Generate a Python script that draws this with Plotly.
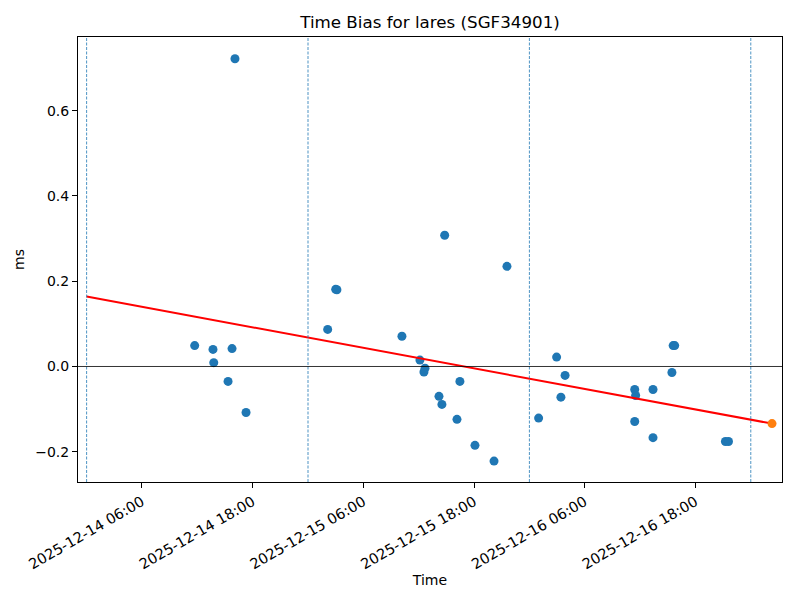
import plotly.graph_objects as go

title = "Time Bias for lares (SGF34901)"

obs_times = [
    "2025-12-14 11:43", "2025-12-14 13:42", "2025-12-14 13:47", "2025-12-14 15:46",
    "2025-12-14 15:20", "2025-12-14 17:17", "2025-12-14 16:05",
    "2025-12-15 02:08", "2025-12-15 03:00", "2025-12-15 03:08",
    "2025-12-15 10:11", "2025-12-15 12:08", "2025-12-15 12:41", "2025-12-15 12:34",
    "2025-12-15 14:49", "2025-12-15 16:28", "2025-12-15 14:12", "2025-12-15 14:31",
    "2025-12-15 16:09", "2025-12-15 18:06", "2025-12-15 20:10", "2025-12-15 21:34",
    "2025-12-16 01:00", "2025-12-16 02:57", "2025-12-16 03:52", "2025-12-16 03:25",
    "2025-12-16 11:25", "2025-12-16 11:31", "2025-12-16 11:25", "2025-12-16 13:24",
    "2025-12-16 13:24", "2025-12-16 15:27", "2025-12-16 15:35", "2025-12-16 15:45",
    "2025-12-16 21:15", "2025-12-16 21:35",
]
obs_bias_ms = [
    0.049, 0.040, 0.009, 0.042,
    -0.035, -0.108, 0.722,
    0.087, 0.181, 0.180,
    0.071, 0.015, -0.004, -0.013,
    0.308, -0.035, -0.070, -0.089,
    -0.124, -0.185, -0.222, 0.235,
    -0.121, 0.022, -0.021, -0.072,
    -0.054, -0.068, -0.129, -0.054,
    -0.167, -0.014, 0.049, 0.049,
    -0.176, -0.176,
]

trend_times = ["2025-12-14 00:00", "2025-12-17 02:18"]
trend_values = [0.164, -0.134]

pred_time = ["2025-12-17 02:18"]
pred_value = [-0.134]

day_boundaries = ["2025-12-14 00:00", "2025-12-15 00:00", "2025-12-16 00:00", "2025-12-17 00:00"]

x_ticks = ["2025-12-14 06:00", "2025-12-14 18:00", "2025-12-15 06:00",
           "2025-12-15 18:00", "2025-12-16 06:00", "2025-12-16 18:00"]
x_range = ["2025-12-13 23:04", "2025-12-17 03:23"]
y_range = [-0.271, 0.773]

fig = go.Figure()

for d in day_boundaries:
    fig.add_shape(type="line", xref="x", yref="paper", x0=d, x1=d, y0=0, y1=1,
                  line=dict(color="#1f77b4", width=0.8, dash="3px,1.5px"))

fig.add_shape(type="line", xref="paper", yref="y", x0=0, x1=1, y0=0, y1=0,
              line=dict(color="black", width=0.8))

fig.add_trace(go.Scatter(x=obs_times, y=obs_bias_ms, mode="markers",
                         marker=dict(color="#1f77b4", size=9, line=dict(width=0)),
                         showlegend=False))
fig.add_trace(go.Scatter(x=trend_times, y=trend_values, mode="lines",
                         line=dict(color="red", width=2), showlegend=False))
fig.add_trace(go.Scatter(x=pred_time, y=pred_value, mode="markers",
                         marker=dict(color="#ff7f0e", size=9, line=dict(width=0)),
                         showlegend=False))

axis_common = dict(showline=True, linecolor="black", linewidth=1, mirror=True,
                   ticks="outside", ticklen=5, tickcolor="black", tickwidth=1,
                   showgrid=False, zeroline=False, automargin=False)

fig.update_xaxes(range=x_range, tickvals=x_ticks, tickformat="%Y-%m-%d %H:%M",
                 tickangle=-30,
                 tickfont=dict(family="DejaVu Sans", size=14.5, color="black"),
                 title=dict(text="Time", font=dict(family="DejaVu Sans", size=14, color="black"),
                            standoff=1),
                 **axis_common)
fig.update_yaxes(range=y_range, tick0=0, dtick=0.2, tickformat=".1f",
                 tickfont=dict(family="DejaVu Sans", size=14, color="black"),
                 title=dict(text="ms", font=dict(family="DejaVu Sans", size=14, color="black"),
                            standoff=7),
                 **axis_common)

fig.update_layout(
    width=800, height=600, autosize=False,
    margin=dict(l=70, r=26, t=29, b=126),
    plot_bgcolor="white", paper_bgcolor="white",
    title=dict(text=title, x=0.5275, xanchor="center", y=0.977, yanchor="middle",
               font=dict(family="DejaVu Sans", size=16.7, color="black")),
    font=dict(family="DejaVu Sans", color="black"),
)

fig.write_html("out.html")
